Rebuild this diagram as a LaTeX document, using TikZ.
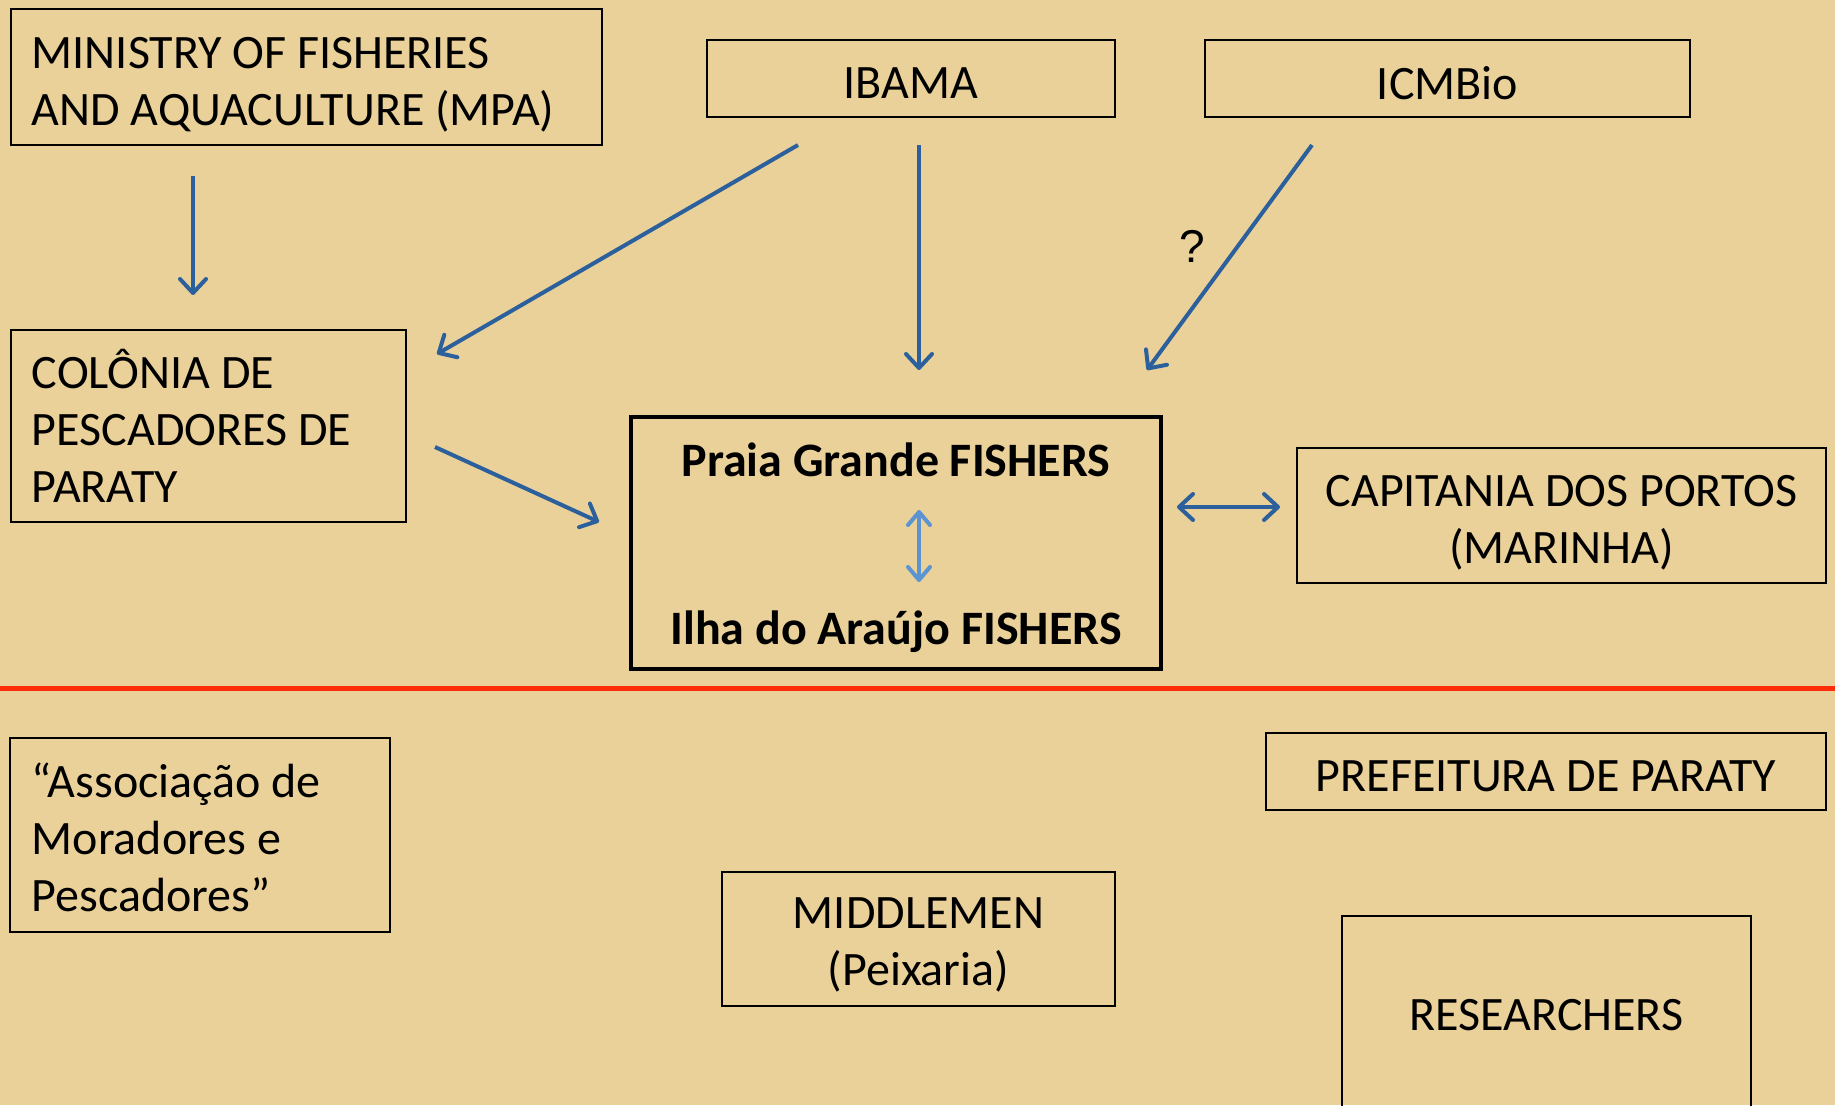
\documentclass[tikz,border=0pt]{standalone}
\usepackage{fontspec}
\setmainfont{Carlito}
\newfontfamily\qfont{Liberation Sans}
\usetikzlibrary{arrows.meta}
\definecolor{bg}{RGB}{234,209,153}
\definecolor{arrowblue}{RGB}{44,96,156}
\definecolor{lightblue}{RGB}{92,148,210}
\definecolor{redline}{RGB}{255,44,8}
\tikzset{
  frame/.style={draw=black, line width=2pt, inner sep=0pt},
  txt/.style={inner sep=0pt, align=center, font=\fontsize{48}{57}\selectfont},
  ltxt/.style={txt, align=flush left, anchor=west},
  arr/.style={draw=arrowblue, line width=4pt,
    -{Straight Barb[length=14pt,width=26pt,line cap=round,line join=round]}},
  darr/.style={draw=arrowblue, line width=4pt,
    {Straight Barb[length=14pt,width=26pt,line cap=round,line join=round]}-{Straight Barb[length=14pt,width=26pt,line cap=round,line join=round]}},
  larr/.style={draw=lightblue, line width=4pt,
    {Straight Barb[length=13pt,width=22pt,line cap=round,line join=round]}-{Straight Barb[length=13pt,width=22pt,line cap=round,line join=round]}},
  boldtext/.style={inner sep=0pt, font=\fontsize{48}{57}\selectfont\bfseries}
}
\begin{document}
\begin{tikzpicture}[x=1pt,y=-1pt]
\useasboundingbox (0,0) rectangle (1835,1105);
\clip (0,0) rectangle (1835,1105);
\fill[bg] (0,0) rectangle (1835,1105);

% top boxes
\node[frame, minimum width=591pt, minimum height=136pt] (mpa) at (306,77) {};
\node[ltxt] (mpaT) at (31.6,85) {MINISTRY OF FISHERIES\\AND AQUACULTURE (MPA)};

\node[frame, minimum width=408pt, minimum height=77pt] (ibama) at (911,78.5) {};
\node[txt] (ibamaT) at (911,83.5) {IBAMA};

\node[frame, minimum width=485pt, minimum height=77pt] (icmbio) at (1447.5,78.5) {};
\node[txt] (icmbioT) at (1447.5,83.5) {ICMBio};

\node[frame, minimum width=395pt, minimum height=192pt] (colonia) at (208,426) {};
\node[ltxt] (coloniaT) at (31.6,426) {COLÔNIA DE\\PESCADORES DE\\PARATY};

\node[draw=black, line width=4pt, minimum width=530pt, minimum height=252pt, inner sep=0pt] (praia) at (896,543) {};
\node[boldtext] (pg) at (896,460) {Praia Grande FISHERS};
\node[boldtext] (ia) at (896,632) {Ilha do Araújo FISHERS};

\node[frame, minimum width=529pt, minimum height=135pt] (capitania) at (1561.5,515.5) {};
\node[txt] (capitaniaT) at (1561.5,523) {CAPITANIA DOS PORTOS\\(MARINHA)};

% separator
\draw[redline, line width=5pt] (0,688) coordinate (sepL) -- (1835,688) coordinate (sepR);

% bottom boxes
\node[frame, minimum width=379.5pt, minimum height=193.5pt] (assoc) at (200,835) {};
\node[ltxt] (assocT) at (31.6,837) {“Associação de\\Moradores e\\Pescadores”};

\node[frame, minimum width=560pt, minimum height=77pt] (prefeitura) at (1546,771) {};
\node[txt] (prefeituraT) at (1546,776) {PREFEITURA DE PARATY};

\node[frame, minimum width=393pt, minimum height=134pt] (middlemen) at (918.5,939) {};
\node[txt] (middlemenT) at (918.5,945) {MIDDLEMEN\\(Peixaria)};

\node[frame, minimum width=409pt, minimum height=198pt] (researchers) at (1546.5,1015) {};
\node[txt] (researchersT) at (1546.5,1015) {RESEARCHERS};

% connector end points
\coordinate (a1s) at (193,175.5);  \coordinate (a1e) at (193,295);
\coordinate (a2s) at (798,145);    \coordinate (a2e) at (437,354);
\coordinate (a3s) at (919,145);    \coordinate (a3e) at (919,370);
\coordinate (a4s) at (1312,145);   \coordinate (a4e) at (1147,370);
\coordinate (a5s) at (435,447);    \coordinate (a5e) at (599,522);
\coordinate (a6s) at (1177,507);   \coordinate (a6e) at (1280,507);
\coordinate (a7s) at (919,510);    \coordinate (a7e) at (919,582);

\draw[arr] (a1s) -- (a1e);
\draw[arr] (a2s) -- (a2e);
\draw[arr] (a3s) -- (a3e);
\draw[arr] (a4s) -- (a4e);
\draw[arr] (a5s) -- (a5e);
\draw[darr] (a6s) -- (a6e);
\draw[larr] (a7s) -- (a7e);

\node[inner sep=0pt, font=\qfont\fontsize{46}{50}\selectfont] (q) at (1192,246) {?};
\end{tikzpicture}
\end{document}
